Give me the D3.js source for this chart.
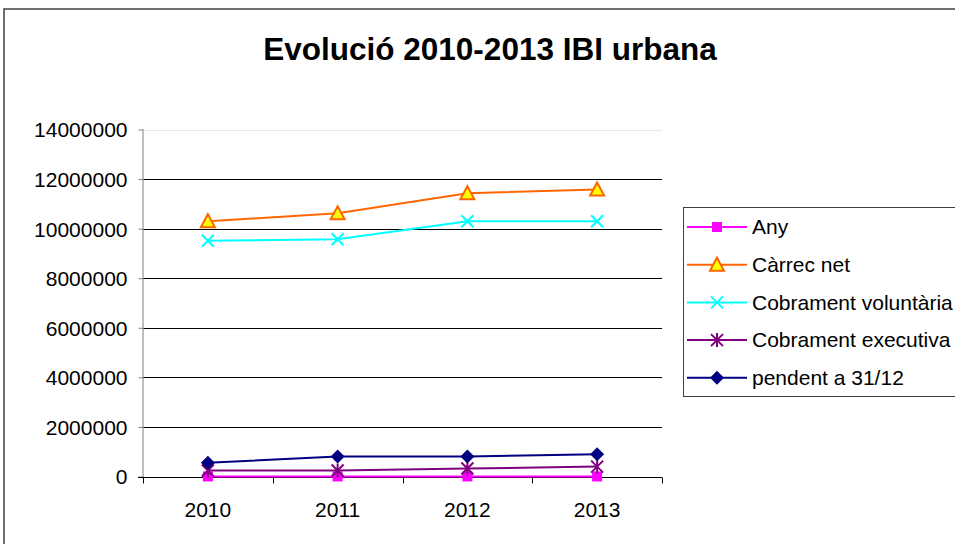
<!DOCTYPE html>
<html><head><meta charset="utf-8">
<script src="https://cdn.jsdelivr.net/npm/d3@7"></script>
<style>body{margin:0;background:#fff}svg{display:block;font-family:"Liberation Sans",Arial,sans-serif}</style>
</head><body><svg id="c" width="955" height="544"></svg>
<script>
const categories = ["2010","2011","2012","2013"];
const seriesNames = ["Any","Càrrec net","Cobrament voluntària","Cobrament executiva","pendent a 31/12"];
const any = [2010, 2011, 2012, 2013];
const carrecNet = [10300000, 10620000, 11430000, 11580000];
const cobVoluntaria = [9510000, 9570000, 10300000, 10300000];
const cobExecutiva = [240000, 240000, 320000, 400000];
const pendent = [550000, 810000, 810000, 900000];
const yTicks = [0,2000000,4000000,6000000,8000000,10000000,12000000,14000000];
const title = "Evolució 2010-2013 IBI urbana";

const seriesValues = [any, carrecNet, cobVoluntaria, cobExecutiva, pendent];
const colors = ["#FF00FF","#FF6600","#00FFFF","#800080","#000080"];
const markers = ["square","triangle","x","star","diamond"];

const svg = d3.select("#c");
svg.append("rect").attr("x",4).attr("y",9).attr("width",960).attr("height",540)
  .attr("fill","#fff").attr("stroke","#404040").attr("stroke-width",1.5);

svg.append("text").attr("x",490).attr("y",60).attr("text-anchor","middle")
  .attr("font-size",31.5).attr("font-weight","bold").attr("fill","#000").text(title);

const x = d3.scaleBand().domain(categories).range([143,662]);
const y = d3.scaleLinear().domain([0,14000000]).range([476.5,129.5]);

const g = svg.append("g");
g.selectAll("line.grid").data(yTicks.filter(d=>d>0)).join("line")
  .attr("x1",143).attr("x2",662)
  .attr("y1",d=>Math.round(y(d))+0.5).attr("y2",d=>Math.round(y(d))+0.5)
  .attr("stroke",d=>d===14000000?"#e8e8e8":"#000").attr("stroke-width",1);

const yAxis = d3.axisLeft(y).tickValues(yTicks).tickSize(5).tickPadding(11).tickFormat(d3.format("d"));
const ya = svg.append("g").attr("transform","translate(143.5,0)").call(yAxis);
ya.select(".domain").attr("stroke","#808080").attr("d","M-0.5,"+y(14000000)+"V"+(y(0)+0.5));
ya.selectAll(".tick line").attr("stroke","#808080");
ya.selectAll(".tick text").attr("font-size",21).attr("fill","#000").attr("font-family","Liberation Sans, Arial, sans-serif").attr("dy","0.35em");

const xa = svg.append("g").attr("transform","translate(0,"+(Math.round(y(0))+0.5)+")");
xa.append("line").attr("x1",138).attr("x2",662).attr("stroke","#000");
const bounds = categories.map(c=>x(c)).concat([x.range()[1]]);
xa.selectAll("line.t").data(bounds).join("line").attr("class","t")
  .attr("x1",d=>Math.round(d)+0.5).attr("x2",d=>Math.round(d)+0.5).attr("y1",0).attr("y2",6).attr("stroke","#000");
xa.selectAll("text").data(categories).join("text")
  .attr("x",d=>x(d)+x.bandwidth()/2).attr("y",39).attr("text-anchor","middle")
  .attr("font-size",21).attr("fill","#000").text(d=>d);

function drawMarker(sel, type, color){
  if(type==="square"){
    sel.append("rect").attr("x",-5).attr("y",-5).attr("width",10).attr("height",10).attr("fill",color);
  } else if(type==="triangle"){
    sel.append("path").attr("d","M0,-7L7,6L-7,6Z").attr("fill","#FFFF00").attr("stroke",color).attr("stroke-width",2);
  } else if(type==="x"){
    sel.append("path").attr("d","M-6,-6L6,6M-6,6L6,-6").attr("stroke",color).attr("stroke-width",2).attr("fill","none");
  } else if(type==="star"){
    sel.append("path").attr("d","M-6,-6L6,6M-6,6L6,-6M0,-7L0,7").attr("stroke",color).attr("stroke-width",2).attr("fill","none");
  } else if(type==="diamond"){
    sel.append("path").attr("d","M0,-7L7,0L0,7L-7,0Z").attr("fill",color);
  }
}

const line = d3.line().x((d,i)=>x(categories[i])+x.bandwidth()/2).y(d=>y(d));
seriesValues.forEach((vals,si)=>{
  svg.append("path").datum(vals).attr("d",line).attr("fill","none")
    .attr("stroke",colors[si]).attr("stroke-width",2);
  vals.forEach((v,i)=>{
    const m = svg.append("g").attr("transform","translate("+(x(categories[i])+x.bandwidth()/2)+","+y(v)+")");
    drawMarker(m, markers[si], colors[si]);
  });
});

const lg = svg.append("g");
lg.append("rect").attr("x",683.5).attr("y",207.5).attr("width",300).attr("height",189)
  .attr("fill","#fff").attr("stroke","#404040");
seriesNames.forEach((n,i)=>{
  const ly = 227 + i*37.7;
  lg.append("line").attr("x1",687).attr("x2",747).attr("y1",ly).attr("y2",ly).attr("stroke",colors[i]).attr("stroke-width",2);
  const m = lg.append("g").attr("transform","translate(717,"+ly+")");
  drawMarker(m, markers[i], colors[i]);
  lg.append("text").attr("x",752).attr("y",ly).attr("dy","0.35em").attr("font-size",21).attr("fill","#000").text(n);
});
</script></body></html>
